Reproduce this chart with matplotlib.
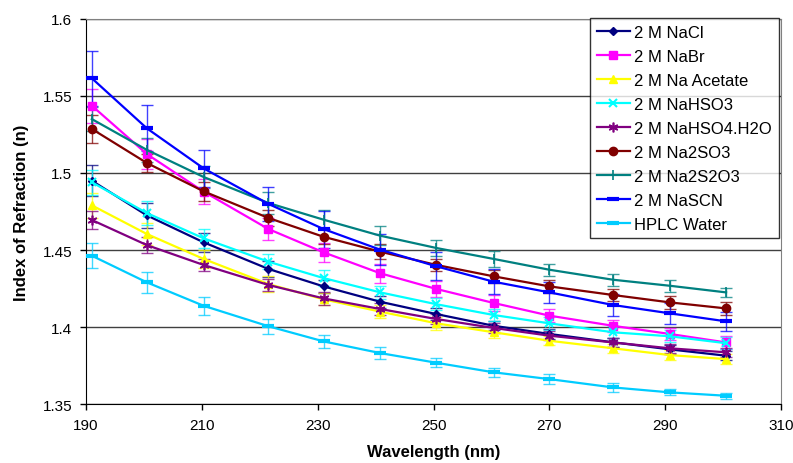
import matplotlib.pyplot as plt
import numpy as np

plt.rcParams['font.family'] = ['Liberation Sans', 'DejaVu Sans']

wavelength = [191, 200.5, 210.3, 221.5, 231, 240.8, 250.5, 260.4, 270, 281, 290.8, 300.5]

nacl = [1.495, 1.4725, 1.455, 1.4377, 1.4264, 1.4164, 1.4084, 1.4008, 1.3955, 1.3901, 1.3855, 1.3814]
nabr = [1.5437, 1.5123, 1.4879, 1.4636, 1.4485, 1.4349, 1.4247, 1.4156, 1.4074, 1.4008, 1.3955, 1.3900]
na_acetate = [1.479, 1.4604, 1.4442, 1.4279, 1.4180, 1.4100, 1.4024, 1.3966, 1.3911, 1.3862, 1.3818, 1.3792]
nahso3 = [1.494, 1.4740, 1.4576, 1.4424, 1.4318, 1.4225, 1.4148, 1.4078, 1.4024, 1.3966, 1.3940, 1.3895]
nahso4 = [1.4695, 1.4532, 1.4403, 1.4273, 1.4186, 1.4117, 1.4052, 1.3994, 1.3944, 1.3900, 1.3862, 1.3836]
na2so3 = [1.5286, 1.5065, 1.4881, 1.4708, 1.4586, 1.4489, 1.4403, 1.4329, 1.4264, 1.4208, 1.4160, 1.4121]
na2s2o3 = [1.535, 1.5150, 1.4974, 1.4805, 1.4697, 1.4593, 1.4513, 1.4442, 1.4372, 1.4307, 1.4268, 1.4225]
nascn = [1.5615, 1.5290, 1.5030, 1.4799, 1.4636, 1.4502, 1.4394, 1.4294, 1.4225, 1.4143, 1.4089, 1.4037]
hplc = [1.4463, 1.4290, 1.4138, 1.4005, 1.3907, 1.3831, 1.3768, 1.3706, 1.3662, 1.3608, 1.3576, 1.3554]

err_nacl = [0.010, 0.008, 0.006, 0.005, 0.004, 0.004, 0.004, 0.003, 0.003, 0.003, 0.003, 0.003]
err_nabr = [0.011, 0.010, 0.008, 0.007, 0.006, 0.006, 0.005, 0.005, 0.004, 0.004, 0.004, 0.004]
err_acetate = [0.008, 0.007, 0.006, 0.005, 0.004, 0.004, 0.004, 0.004, 0.003, 0.003, 0.003, 0.003]
err_nahso3 = [0.008, 0.008, 0.006, 0.005, 0.005, 0.004, 0.004, 0.004, 0.004, 0.004, 0.004, 0.004]
err_nahso4 = [0.006, 0.005, 0.004, 0.004, 0.004, 0.004, 0.003, 0.003, 0.003, 0.003, 0.003, 0.003]
err_na2so3 = [0.009, 0.006, 0.006, 0.005, 0.005, 0.005, 0.004, 0.004, 0.004, 0.004, 0.004, 0.004]
err_na2s2o3 = [0.008, 0.008, 0.007, 0.007, 0.006, 0.006, 0.005, 0.005, 0.004, 0.004, 0.004, 0.003]
err_nascn = [0.018, 0.015, 0.012, 0.011, 0.012, 0.010, 0.009, 0.008, 0.007, 0.007, 0.007, 0.006]
err_hplc = [0.008, 0.007, 0.006, 0.005, 0.004, 0.004, 0.003, 0.003, 0.003, 0.003, 0.002, 0.002]

series = [
    ("2 M NaCl", nacl, err_nacl, '#000080', 'D', 4.5, 1),
    ("2 M NaBr", nabr, err_nabr, '#FF00FF', 's', 6, 1),
    ("2 M Na Acetate", na_acetate, err_acetate, '#FFFF00', '^', 6, 1),
    ("2 M NaHSO3", nahso3, err_nahso3, '#00FFFF', 'x', 6, 1.5),
    ("2 M NaHSO4.H2O", nahso4, err_nahso4, '#800080', (6, 2, 0), 7, 1.2),
    ("2 M Na2SO3", na2so3, err_na2so3, '#800000', 'o', 6, 1),
    ("2 M Na2S2O3", na2s2o3, err_na2s2o3, '#008080', '|', 7, 1.2),
    ("2 M NaSCN", nascn, err_nascn, '#0000FF', '_', 9, 3),
    ("HPLC Water", hplc, err_hplc, '#00CCFF', '_', 9, 3),
]

fig = plt.figure(figsize=(7.93, 4.64), dpi=100)
ax = fig.add_axes([0.1085, 0.127, 0.8765, 0.83])

for name, vals, err, color, marker, ms, mew in series:
    ax.errorbar(wavelength, vals, yerr=err, fmt='none', ecolor=color, alpha=0.75,
                elinewidth=1, capsize=4, capthick=1, zorder=2)
    ax.plot(wavelength, vals, color=color, lw=1.6, marker=marker, ms=ms,
            mew=mew, mec=color, mfc=color, label=name, zorder=3)

ax.set_xlim(190, 310)
ax.set_ylim(1.35, 1.6)
ax.set_xticks(np.arange(190, 311, 20))
ax.set_yticks([1.35, 1.4, 1.45, 1.5, 1.55, 1.6])
ax.set_yticklabels(["1.35", "1.4", "1.45", "1.5", "1.55", "1.6"])
ax.tick_params(labelsize=11, direction='out', length=4, width=1, pad=6)
ax.yaxis.grid(True, color='#404040', lw=1)
ax.set_axisbelow(True)
ax.spines['top'].set_color('#808080')
ax.spines['right'].set_color('#808080')
ax.set_xlabel("Wavelength (nm)", fontsize=12, fontweight='bold', labelpad=9)
ax.set_ylabel("Index of Refraction (n)", fontsize=12, fontweight='bold', labelpad=10)

leg = ax.legend(loc='upper right', bbox_to_anchor=(0.982, 0.959), bbox_transform=fig.transFigure,
                fontsize=12, frameon=True, fancybox=False, edgecolor='black',
                borderpad=0.4, labelspacing=0.54, handlelength=2.0, handletextpad=0.25,
                borderaxespad=0)
leg.get_frame().set_linewidth(1)

fig.savefig("out.png", dpi=100)
